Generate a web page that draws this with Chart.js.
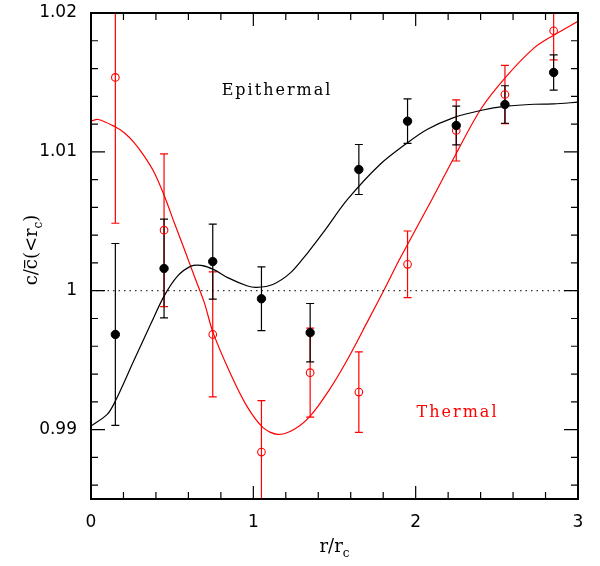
<!DOCTYPE html>
<html>
<head>
<meta charset="utf-8">
<script src="https://cdn.jsdelivr.net/npm/chart.js@4"></script>
<style>
  html, body { margin: 0; padding: 0; background: #fff; }
  #wrap { width: 600px; height: 566px; }
</style>
</head>
<body>
<div id="wrap"><canvas id="myChart" width="600" height="566"></canvas></div>
<script>
// binned measurements
const rBins = [0.15, 0.45, 0.75, 1.05, 1.35, 1.65, 1.95, 2.25, 2.55, 2.85];
const epiVal = [0.99685, 1.0016, 1.0021, 0.99942, 0.99698, 1.00873, 1.01221, 1.0119, 1.01341, 1.01572];
const epiErr = [0.00655, 0.00356, 0.0027, 0.0023, 0.0021, 0.0018, 0.0016, 0.0014, 0.00135, 0.00127];
const thermVal = [1.01536, 1.00436, 0.99685, 0.98838, 0.9941, 0.9927, 1.0019, 1.01154, 1.01413, 1.01872];
const thermErr = [0.0105, 0.0055, 0.0045, 0.0037, 0.0032, 0.0029, 0.0024, 0.0022, 0.0021, 0.0021];

// model curves
const epiCurveX = [0, 0.1, 0.15, 0.267, 0.37, 0.45, 0.533, 0.616, 0.678, 0.76, 0.842, 0.96, 1.02, 1.12, 1.23, 1.33, 1.43, 1.58, 1.78, 1.95, 2.07, 2.23, 2.4, 2.56, 2.73, 2.85, 3.0];
const epiCurveY = [0.99025, 0.99109, 0.99205, 0.99505, 0.99765, 0.99961, 1.00105, 1.00177, 1.00182, 1.00150, 1.00094, 1.00036, 1.00024, 1.00045, 1.0013, 1.00266, 1.00418, 1.00657, 1.00909, 1.01066, 1.01161, 1.01245, 1.01298, 1.01329, 1.01343, 1.01345, 1.01358];
const thermCurveX = [0, 0.045, 0.148, 0.205, 0.267, 0.328, 0.39, 0.448, 0.513, 0.575, 0.636, 0.698, 0.752, 0.86, 0.96, 1.06, 1.15, 1.25, 1.35, 1.47, 1.58, 1.7, 1.82, 1.9, 2.1, 2.23, 2.4, 2.56, 2.73, 2.85, 3.0];
const thermCurveY = [1.01221, 1.01233, 1.01181, 1.01138, 1.01065, 1.00969, 1.0085, 1.00694, 1.0049, 1.00298, 1.00106, 0.99914, 0.99698, 0.9940, 0.99169, 0.99014, 0.98965, 0.99001, 0.99097, 0.99290, 0.99505, 0.9977, 1.00040, 1.00225, 1.00657, 1.00945, 1.01305, 1.01545, 1.01749, 1.01840, 1.0194];

const xMajor = [0, 1, 2, 3];
const yMajor = [0.99, 1, 1.01, 1.02];
const xLabels = ['0', '1', '2', '3'];
const yLabels = ['0.99', '1', '1.01', '1.02'];

const pts = (xs, ys) => xs.map((x, i) => ({x: x, y: ys[i]}));
const near = (arr, v) => arr.findIndex(m => Math.abs(m - v) < 1e-7);

const errorBars = {
  id: 'errorBars',
  beforeDatasetsDraw(chart) {
    const {ctx, chartArea: a, scales: {x, y}} = chart;
    ctx.save();
    ctx.beginPath();
    ctx.rect(a.left, a.top, a.right - a.left, a.bottom - a.top);
    ctx.clip();
    ctx.lineWidth = 1.2;
    const draw = (vals, errs, col) => {
      ctx.strokeStyle = col;
      for (let i = 0; i < rBins.length; i++) {
        const px = x.getPixelForValue(rBins[i]);
        const top = y.getPixelForValue(vals[i] + errs[i]);
        const bot = y.getPixelForValue(vals[i] - errs[i]);
        ctx.beginPath();
        ctx.moveTo(px, top); ctx.lineTo(px, bot);
        ctx.moveTo(px - 4, top); ctx.lineTo(px + 4, top);
        ctx.moveTo(px - 4, bot); ctx.lineTo(px + 4, bot);
        ctx.stroke();
      }
    };
    draw(thermVal, thermErr, '#ff0000');
    draw(epiVal, epiErr, '#000000');
    ctx.restore();
  }
};

function drawParts(ctx, parts, x, y) {
  parts.forEach(p => {
    ctx.font = p.size + 'px "DejaVu Serif"';
    const w = ctx.measureText(p.t).width;
    ctx.fillText(p.t, x, y + (p.dy || 0));
    if (p.over) {
      ctx.fillRect(x + 1, y - p.size * 0.72, w - 2, 1.2);
    }
    x += w;
  });
}
function partsWidth(ctx, parts) {
  let w = 0;
  parts.forEach(p => { ctx.font = p.size + 'px "DejaVu Serif"'; w += ctx.measureText(p.t).width; });
  return w;
}

const frame = {
  id: 'frame',
  afterDraw(chart) {
    const {ctx, chartArea: a, scales: {x, y}} = chart;
    ctx.save();
    ctx.strokeStyle = '#000';
    ctx.lineWidth = 1.2;
    ctx.beginPath();
    x.ticks.forEach(t => {
      const px = x.getPixelForValue(t.value);
      const len = near(xMajor, t.value) >= 0 ? 13 : 7;
      ctx.moveTo(px, a.bottom); ctx.lineTo(px, a.bottom - len);
      ctx.moveTo(px, a.top); ctx.lineTo(px, a.top + len);
    });
    y.ticks.forEach(t => {
      const py = y.getPixelForValue(t.value);
      const len = near(yMajor, t.value) >= 0 ? 14 : 7;
      ctx.moveTo(a.left, py); ctx.lineTo(a.left + len, py);
      ctx.moveTo(a.right, py); ctx.lineTo(a.right - len, py);
    });
    ctx.stroke();
    ctx.lineWidth = 2;
    ctx.strokeRect(a.left, a.top, a.right - a.left, a.bottom - a.top);

    // annotations
    ctx.textAlign = 'left';
    ctx.textBaseline = 'alphabetic';
    ctx.font = '16px "DejaVu Serif"';
    ctx.letterSpacing = '2px';
    ctx.fillStyle = '#000';
    let tw = ctx.measureText('Epithermal').width;
    ctx.fillText('Epithermal', x.getPixelForValue(1.146) - tw / 2, y.getPixelForValue(1.01412));
    ctx.fillStyle = '#ff0000';
    tw = ctx.measureText('Thermal').width;
    ctx.fillText('Thermal', x.getPixelForValue(2.258) - tw / 2, y.getPixelForValue(0.99093));
    ctx.letterSpacing = '0px';

    // axis titles
    ctx.fillStyle = '#000';
    const xt = [{t: 'r/r', size: 18}, {t: 'c', size: 12, dy: 5}];
    const xw = partsWidth(ctx, xt);
    drawParts(ctx, xt, (a.left + a.right) / 2 - xw / 2, 552);
    const yt = [{t: 'c/', size: 18}, {t: 'c', size: 18, over: true}, {t: '(<r', size: 18}, {t: 'c', size: 12, dy: 5}, {t: ')', size: 18}];
    const yw = partsWidth(ctx, yt);
    ctx.translate(37, (a.top + a.bottom) / 2 - 6);
    ctx.rotate(-Math.PI / 2);
    drawParts(ctx, yt, -yw / 2, 0);
    ctx.restore();
  }
};

new Chart(document.getElementById('myChart'), {
  type: 'scatter',
  data: {
    datasets: [
      {
        data: [{x: 0, y: 1}, {x: 3, y: 1}],
        showLine: true, borderColor: '#000', borderWidth: 1, borderDash: [1.5, 4],
        pointRadius: 0
      },
      {
        data: pts(epiCurveX, epiCurveY),
        showLine: true, borderColor: '#000', borderWidth: 1.2,
        tension: 0.3, pointRadius: 0
      },
      {
        data: pts(thermCurveX, thermCurveY),
        showLine: true, borderColor: '#ff0000', borderWidth: 1.2,
        tension: 0.3, pointRadius: 0
      },
      {
        data: pts(rBins, epiVal),
        pointRadius: 4.2, pointBackgroundColor: '#000', pointBorderColor: '#000', pointBorderWidth: 1
      },
      {
        data: pts(rBins, thermVal),
        pointRadius: 3.8, pointBackgroundColor: 'rgba(0,0,0,0)', pointBorderColor: '#ff0000', pointBorderWidth: 1.1
      }
    ]
  },
  options: {
    responsive: false,
    animation: false,
    layout: { padding: { top: 13, right: 22, left: 0, bottom: 0 } },
    plugins: {
      legend: { display: false },
      tooltip: { enabled: false }
    },
    scales: {
      x: {
        type: 'linear',
        min: 0, max: 3,
        afterBuildTicks: s => { s.ticks = []; for (let i = 0; i <= 15; i++) s.ticks.push({value: i * 0.2}); },
        afterFit: s => { s.height = 67; s.paddingLeft = 0; s.paddingRight = 0; },
        grid: { display: false, drawTicks: false },
        border: { display: false },
        ticks: {
          autoSkip: false, maxRotation: 0, padding: 13, color: '#000',
          font: { family: 'DejaVu Sans', size: 17 },
          callback: v => { const k = near(xMajor, v); return k >= 0 ? xLabels[k] : ''; }
        }
      },
      y: {
        type: 'linear',
        min: 0.985, max: 1.02,
        afterBuildTicks: s => { s.ticks = []; for (let i = 0; i <= 17; i++) s.ticks.push({value: 0.986 + i * 0.002}); },
        afterFit: s => { s.width = 91; s.paddingTop = 0; s.paddingBottom = 0; },
        grid: { display: false, drawTicks: false },
        border: { display: false },
        ticks: {
          autoSkip: false, padding: 14, color: '#000',
          font: { family: 'DejaVu Sans', size: 17 },
          callback: v => { const k = near(yMajor, v); return k >= 0 ? yLabels[k] : ''; }
        }
      }
    }
  },
  plugins: [errorBars, frame]
});
</script>
</body>
</html>
